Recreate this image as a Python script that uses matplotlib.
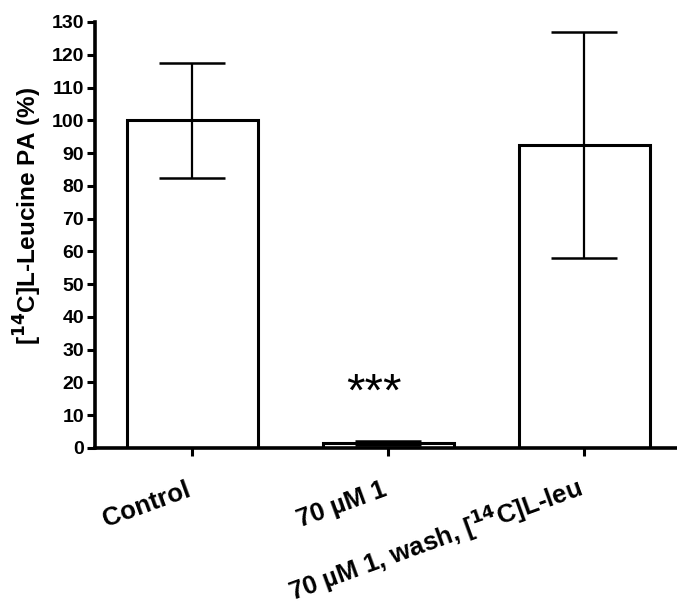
import matplotlib
matplotlib.use("Agg")
import matplotlib.pyplot as plt
import numpy as np

categories = ["Control", "70 µM 1", "70 µM 1, wash, [$^{14}$C]L-leu"]
values = [100.0, 1.5, 92.5]
errors = [17.5, 0.5, 34.5]
yticks = list(range(0, 131, 10))
sig_label = "***"
sig_y = 16.5

plt.rcParams['font.family'] = ['Liberation Sans', 'DejaVu Sans']
plt.rcParams['font.weight'] = 'bold'
plt.rcParams['mathtext.default'] = 'bf'

fig = plt.figure(figsize=(6.77, 6.09), dpi=100)
ax = fig.add_axes([95/677, 1-448/609, 1-95/677, (448-22)/609])

x = np.arange(len(categories))
ax.bar(x, values, width=0.668, color='white', edgecolor='black', linewidth=2.2, zorder=2)
ax.errorbar(x, values, yerr=errors, fmt='none', ecolor='black', elinewidth=1.6,
            capsize=23.5, capthick=1.8, zorder=3)

ax.text(x[1] - 0.07, sig_y, sig_label, ha='center', va='center', fontsize=34, fontweight='normal')

ax.set_xlim(-0.495, 2.474)
ax.set_ylim(0, 130)
ax.set_yticks(yticks)
ax.set_yticklabels([str(t) for t in yticks], fontsize=14, fontweight='bold')
ax.set_xticks(x)
ax.set_xticklabels(categories, fontsize=18.5, fontweight='bold', rotation=20,
                   ha='right', va='baseline', rotation_mode='anchor')
ax.tick_params(axis='x', length=6, width=2.2, pad=28)
ax.tick_params(axis='y', length=6, width=2.2, pad=2)
ax.spines['top'].set_visible(False)
ax.spines['right'].set_visible(False)
ax.spines['left'].set_linewidth(2.6)
ax.spines['bottom'].set_linewidth(2.6)
ax.set_ylabel("[$^{14}$C]L-Leucine PA (%)", fontsize=17.5, fontweight='bold')
ax.yaxis.set_label_coords(-0.088, 0.545)

fig.savefig("out.png", dpi=100)
